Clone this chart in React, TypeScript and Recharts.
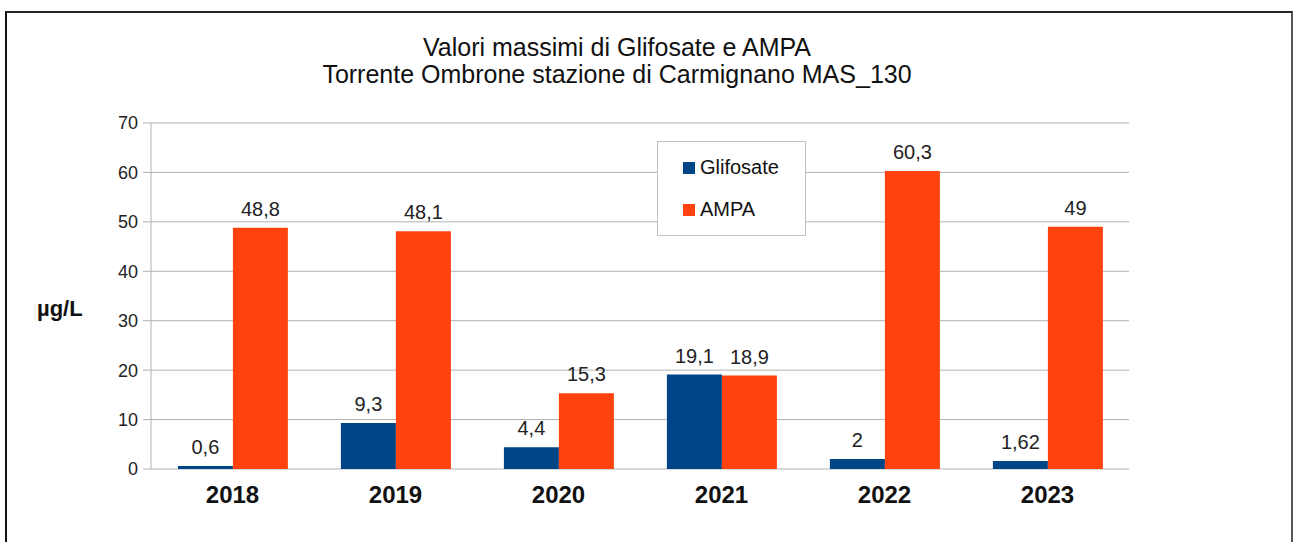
import React from "react";
import { BarChart, Bar, XAxis, YAxis, CartesianGrid, LabelList } from "recharts";

const years = ["2018", "2019", "2020", "2021", "2022", "2023"];
const glifosate = [0.6, 9.3, 4.4, 19.1, 2, 1.62];
const ampa = [48.8, 48.1, 15.3, 18.9, 60.3, 49];
const yTicks = [0, 10, 20, 30, 40, 50, 60, 70];
const boundaryTicks = [0, 1, 2, 3, 4, 5, 6];

const data = years.map((year, i) => ({ year, glifosate: glifosate[i], ampa: ampa[i] }));

const FONT = "'Liberation Sans', Arial, sans-serif";
const BLUE = "#004586";
const ORANGE = "#ff420e";
const GRID = "#b3b3b3";

const fmt = (v: any) => String(v).replace(".", ",");

export default function App() {
  return (
    <div style={{ position: "absolute", left: 0, top: 0, width: 1293, height: 542, background: "#fff", overflow: "hidden", fontFamily: FONT }}>
      {/* outer frame */}
      <div style={{ position: "absolute", left: 5, top: 11, width: 1284, height: 560, borderLeft: "2px solid #111", borderTop: "2px solid #222", borderRight: "2px solid #555" }} />

      <div style={{ position: "absolute", left: 0, top: 34, width: 1234, textAlign: "center", fontSize: 25, lineHeight: "27px", color: "#111" }}>
        <div>Valori massimi di Glifosate e AMPA</div>
        <div>Torrente Ombrone stazione di Carmignano MAS_130</div>
      </div>

      <div style={{ position: "absolute", left: 37, top: 297, fontSize: 22, lineHeight: "24px", fontWeight: 700, color: "#111" }}>µg/L</div>

      <div style={{ position: "absolute", left: 0, top: 0 }}>
        <BarChart
          width={1293}
          height={542}
          data={data}
          margin={{ top: 123, right: 164, left: 91, bottom: 33 }}
          barCategoryGap="16.5%"
          barGap={0}
        >
          <CartesianGrid horizontal vertical={false} stroke={GRID} />
          <XAxis
            dataKey="year"
            height={40}
            axisLine={false}
            tickLine={false}
            tickSize={0}
            tickMargin={17}
            tick={{ fill: "#111", fontSize: 24, fontWeight: 700, fontFamily: FONT }}
          />
          <XAxis
            xAxisId="edges"
            type="number"
            domain={[0, 6]}
            ticks={boundaryTicks}
            height={0}
            axisLine={false}
            tick={false}
            tickSize={8}
            stroke={GRID}
            allowDataOverflow
          />
          <YAxis
            domain={[0, 70]}
            ticks={yTicks}
            width={60}
            stroke={GRID}
            tickSize={8}
            tickMargin={5}
            tick={{ fill: "#222", fontSize: 18, fontFamily: FONT }}
          />
          <YAxis yAxisId="r" orientation="right" domain={[0, 70]} width={0} tick={false} tickLine={false} stroke={GRID} />
          <Bar dataKey="glifosate" name="Glifosate" fill={BLUE} isAnimationActive={false}>
            <LabelList dataKey="glifosate" position="top" offset={12} formatter={fmt} style={{ fill: "#222", fontSize: 20, fontFamily: FONT }} />
          </Bar>
          <Bar dataKey="ampa" name="AMPA" fill={ORANGE} isAnimationActive={false}>
            <LabelList dataKey="ampa" position="top" offset={12} formatter={fmt} style={{ fill: "#222", fontSize: 20, fontFamily: FONT }} />
          </Bar>
        </BarChart>
      </div>

      {/* legend */}
      <div style={{ position: "absolute", left: 657, top: 141, width: 147, height: 93, border: "1.5px solid #c0c0c0", background: "#fff", fontSize: 20, lineHeight: "22px", color: "#111" }}>
        <div style={{ position: "absolute", left: 25, top: 14, display: "flex", alignItems: "center" }}>
          <span style={{ width: 12, height: 12, background: BLUE, marginRight: 5, marginTop: 2 }} />Glifosate
        </div>
        <div style={{ position: "absolute", left: 25, top: 56, display: "flex", alignItems: "center" }}>
          <span style={{ width: 12, height: 12, background: ORANGE, marginRight: 5, marginTop: 2 }} />AMPA
        </div>
      </div>
    </div>
  );
}
